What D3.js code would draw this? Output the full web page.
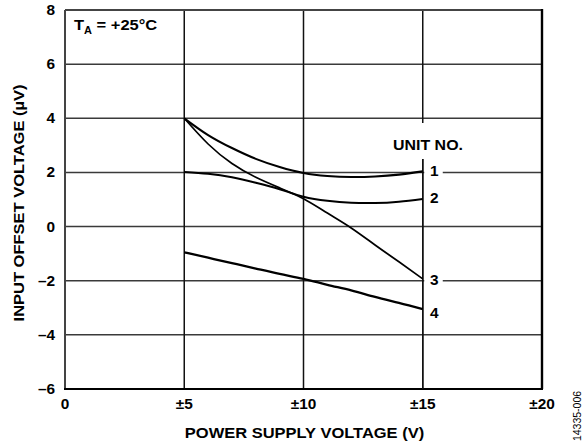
<!DOCTYPE html>
<html>
<head>
<meta charset="utf-8">
<script src="https://cdn.jsdelivr.net/npm/d3@7"></script>
<style>
  html, body { margin: 0; padding: 0; background: #fff; }
  svg { display: block; }
  text { font-family: "Liberation Sans", Arial, sans-serif; font-weight: bold; fill: #000; }
</style>
</head>
<body>
<svg id="chart" width="585" height="445"></svg>
<script>
// ---- data ----
const supplyV = [5, 6, 7, 8, 9, 10, 11, 12, 13, 14, 15];
const unit1 = [4.0, 3.38, 2.9, 2.5, 2.2, 1.98, 1.87, 1.83, 1.85, 1.92, 2.04];
const unit2 = [2.02, 1.95, 1.82, 1.62, 1.38, 1.1, 0.95, 0.88, 0.87, 0.92, 1.02];
const unit3 = [4.0, 3.05, 2.33, 1.82, 1.43, 1.03, 0.5, -0.05, -0.68, -1.3, -1.93];
const unit4 = [-0.95, -1.15, -1.35, -1.55, -1.75, -1.93, -2.15, -2.36, -2.6, -2.82, -3.05];
const unitNames = ["1", "2", "3", "4"];
const xTicks = [0, 5, 10, 15, 20];
const xTickLabels = ["0", "±5", "±10", "±15", "±20"];
const yTicks = [-6, -4, -2, 0, 2, 4, 6, 8];
const yTickLabels = ["–6", "–4", "–2", "0", "2", "4", "6", "8"];

const svg = d3.select("#chart");
const L = 65, R = 542, T = 10, B = 389;
const SX = 1.1; // horizontal glyph stretch seen in the reference
const x = d3.scaleLinear().domain([0, 20]).range([L, R]);
const y = d3.scaleLinear().domain([-6, 8]).range([B, T]);

function txt(px, py, size, s, anchor, rot) {
  return svg.append("text")
    .attr("transform", `translate(${px},${py})` + (rot ? ` rotate(${rot})` : "") + ` scale(${SX},1)`)
    .attr("font-size", size).attr("text-anchor", anchor || "start").text(s);
}

// grid
svg.selectAll(".hg").data(yTicks.filter(v => v > -6 && v < 8)).join("line")
  .attr("x1", L).attr("x2", R).attr("y1", d => y(d)).attr("y2", d => y(d))
  .attr("stroke", "#3a3a3a").attr("stroke-width", 1.5);
svg.selectAll(".vg").data(xTicks.filter(v => v > 0 && v < 20)).join("line")
  .attr("y1", T).attr("y2", B).attr("x1", d => x(d)).attr("x2", d => x(d))
  .attr("stroke", "#111").attr("stroke-width", 1.5);

// frame
svg.append("line").attr("x1", L).attr("x2", R).attr("y1", T).attr("y2", T).attr("stroke", "#444").attr("stroke-width", 1.8);
svg.append("line").attr("x1", L).attr("x2", L).attr("y1", T).attr("y2", B).attr("stroke", "#444").attr("stroke-width", 2);
svg.append("line").attr("x1", L - 1).attr("x2", R + 1).attr("y1", B).attr("y2", B).attr("stroke", "#000").attr("stroke-width", 2);
svg.append("line").attr("x1", R).attr("x2", R).attr("y1", T - 0.9).attr("y2", B).attr("stroke", "#000").attr("stroke-width", 2.4);

// label data
const series = [unit1, unit2, unit3, unit4];
const lbl = series.map((s, i) => ({name: unitNames[i], v: s[s.length - 1]}));
const lblShift = [0, -1, 1, 3.5];
const lx = x(15);

// white boxes behind labels (they interrupt the grid lines)
svg.append("rect").attr("x", lx - 33).attr("y", 123).attr("width", 75).attr("height", 36).attr("fill", "#fff");
svg.selectAll(".lbg").data(lbl).join("rect")
  .attr("x", lx + 1.5).attr("y", (d, i) => y(d.v) + lblShift[i] - 8).attr("width", 18.5).attr("height", 16).attr("fill", "#fff");
// restore the vertical grid line at ±15 through the label area
svg.append("line").attr("x1", lx).attr("x2", lx).attr("y1", 159).attr("y2", B)
  .attr("stroke", "#111").attr("stroke-width", 1.5);

// curves
const widths = [2.1, 2, 1.7, 2.3];
const line = d3.line().x(d => x(d[0])).y(d => y(d[1])).curve(d3.curveNatural);
series.forEach((s, i) => {
  svg.append("path").datum(supplyV.map((v, k) => [v, s[k]]))
    .attr("d", line).attr("fill", "none").attr("stroke", "#000")
    .attr("stroke-width", widths[i]).attr("stroke-linejoin", "round");
});

// unit labels
lbl.forEach((d, i) => txt(430, y(d.v) + lblShift[i] + 5, 14, d.name));
txt(393, 150, 14.5, "UNIT NO.");

// T_A label
const ta = txt(74, 30, 15, "");
ta.append("tspan").text("T");
ta.append("tspan").attr("font-size", 10).attr("dy", 3.5).text("A");
ta.append("tspan").attr("dy", -3.5).text(" = +25°C");

// tick labels
yTicks.forEach((v, i) => txt(55, y(v) + 5, 14, yTickLabels[i], "end"));
xTicks.forEach((v, i) => txt(x(v), 409, 14, xTickLabels[i], "middle"));

// axis titles
txt(304.5, 438, 15, "POWER SUPPLY VOLTAGE (V)", "middle");
txt(23.5, 203, 15, "INPUT OFFSET VOLTAGE (µV)", "middle", -90);

// figure id
svg.append("text").attr("transform", "translate(581, 416) rotate(-90)")
  .attr("text-anchor", "middle").attr("font-size", 10.5)
  .style("font-weight", "normal").text("14335-006");
</script>
</body>
</html>
